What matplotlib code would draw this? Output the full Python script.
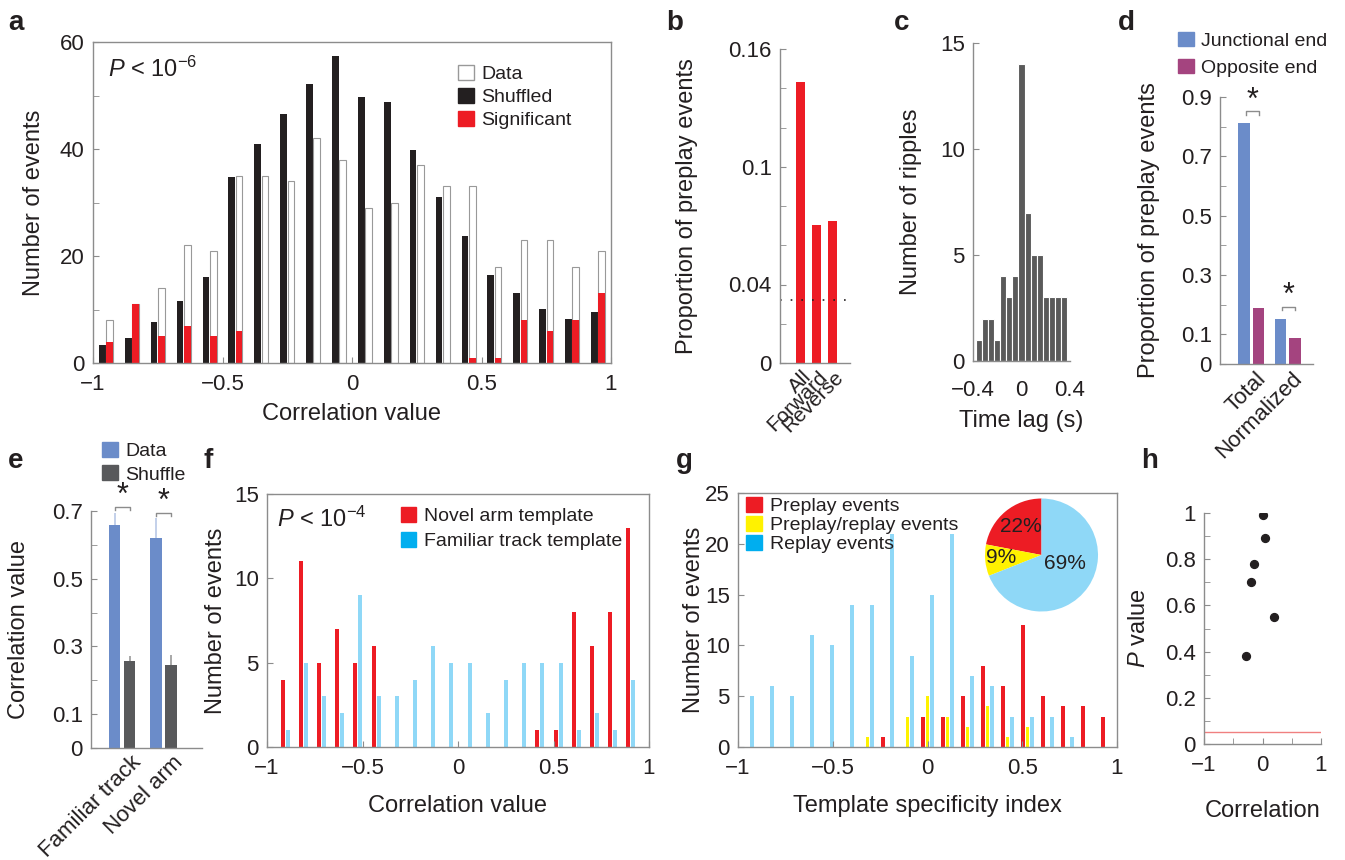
import numpy as np
import matplotlib.pyplot as plt
from matplotlib.patches import Patch

plt.rcParams['font.family'] = ['Liberation Sans', 'DejaVu Sans']
plt.rcParams['mathtext.fontset'] = 'custom'
plt.rcParams['mathtext.rm'] = 'Liberation Sans'
plt.rcParams['mathtext.it'] = 'Liberation Sans:italic'
plt.rcParams['axes.edgecolor'] = '#8c8c8c'
plt.rcParams['axes.linewidth'] = 1.0
plt.rcParams['text.color'] = '#231f20'
plt.rcParams['axes.labelcolor'] = '#231f20'
plt.rcParams['xtick.color'] = '#8c8c8c'
plt.rcParams['ytick.color'] = '#8c8c8c'
plt.rcParams['xtick.labelcolor'] = '#231f20'
plt.rcParams['ytick.labelcolor'] = '#231f20'
plt.rcParams['xtick.direction'] = 'in'
plt.rcParams['ytick.direction'] = 'in'
plt.rcParams['xtick.major.size'] = 4
plt.rcParams['ytick.major.size'] = 4
plt.rcParams['xtick.minor.size'] = 4
plt.rcParams['ytick.minor.size'] = 4
plt.rcParams['xtick.major.pad'] = 8
plt.rcParams['ytick.major.pad'] = 6
plt.rcParams['xtick.labelsize'] = 16
plt.rcParams['ytick.labelsize'] = 16
plt.rcParams['axes.labelsize'] = 17

RED = '#ed1c24'
BLACK = '#231f20'
CYAN = '#8fd8f7'
CYAN_KEY = '#00aeef'
YELLOW = '#fff200'
BLUE = '#6b8cc9'
PURPLE = '#a4447f'
GREY = '#58595b'
LEG = 14

# ---- data -------------------------------------------------------------
# a: correlation histogram, 0.1 bins
a_bins = np.round(np.arange(-0.95, 0.96, 0.1), 2)
a_data = [8, 11, 14, 22, 21, 35, 35, 34, 42, 38, 29, 30, 37, 33, 33, 18, 23, 23, 18, 21]
a_shuffled = [3.3, 4.7, 7.7, 11.6, 16.1, 34.8, 41, 46.5, 52.2, 57.4,
              49.8, 48.7, 39.9, 31, 23.8, 16.4, 13.1, 10.1, 8.2, 9.5]
a_significant = [4, 11, 5, 7, 5, 6, 0, 0, 0, 0, 0, 0, 0, 0, 1, 1, 8, 6, 8, 13]

# b
b_labels = ['All', 'Forward', 'Reverse']
b_values = [0.143, 0.0703, 0.0723]
b_chance = 0.032

# c: ripple time lag, 0.05 s bins
c_bins = np.round(np.arange(-0.35, 0.36, 0.05), 2)
c_counts = [1, 2, 2, 1, 4, 3, 4, 14, 7, 5, 5, 3, 3, 3, 3]

# d
d_labels = ['Total', 'Normalized']
d_junctional = [0.812, 0.153]
d_opposite = [0.19, 0.086]

# e
e_labels = ['Familiar track', 'Novel arm']
e_data = [0.658, 0.619]
e_data_err = [0.035, 0.06]
e_shuffle = [0.256, 0.245]
e_shuffle_err = [0.015, 0.031]

# f
f_bins = np.linspace(-0.905, 0.905, 20)
f_novel = [4, 11, 5, 7, 5, 6, 0, 0, 0, 0, 0, 0, 0, 0, 1, 1, 8, 6, 8, 13]
f_familiar = [1, 5, 3, 2, 9, 3, 3, 4, 6, 5, 5, 2, 4, 5, 5, 5, 1, 2, 1, 4]

# g
g_bins = np.linspace(-0.95, 0.95, 19)
g_preplay = [0, 0, 0, 0, 0, 0, 0, 1, 0, 3, 3, 5, 8, 6, 12, 5, 4, 4, 3]
g_both = [0, 0, 0, 0, 0, 0, 1, 0, 3, 5, 3, 2, 4, 1, 2, 0, 0, 0, 0]
g_replay = [5, 6, 5, 11, 10, 14, 14, 21, 9, 15, 21, 7, 6, 3, 3, 3, 1, 0, 0]
g_pie = [22, 9, 69]

# h
h_corr = [0.0, 0.05, -0.14, -0.2, 0.2, -0.29]
h_p = [0.99, 0.89, 0.78, 0.70, 0.55, 0.38]
h_alpha = 0.05

# ---- layout -----------------------------------------------------------
W, H = 1345, 860
fig = plt.figure(figsize=(W / 100, H / 100), dpi=100)


def box(l, t, r, b):
    return [l / W, 1 - b / H, (r - l) / W, (b - t) / H]


def fmt(v):
    return f'{v:g}'.replace('-', '\u2212')


def letter(x, y, s):
    fig.text(x / W, 1 - y / H, s, fontsize=20, fontweight='bold', va='baseline', ha='left')


def open_axes(ax):
    ax.spines['top'].set_visible(False)
    ax.spines['right'].set_visible(False)
    ax.patch.set_alpha(0)


def bracket(ax, x0, x1, y, dy, ys):
    ax.plot([x0, x0, x1, x1], [y - dy, y, y, y - dy], color='#8c8c8c', lw=1, clip_on=False)
    ax.text((x0 + x1) / 2, ys, '*', fontsize=22, ha='center', va='center', clip_on=False)


def key(ax, colors, labels, anchor, spacing=0.25, edge=None):
    hs = [Patch(facecolor=c, edgecolor=(edge if edge and c == 'white' else c)) for c in colors]
    ax.legend(hs, labels, loc='upper left', bbox_to_anchor=anchor, frameon=False,
              fontsize=LEG, handlelength=0.8, handleheight=0.8, handletextpad=0.4,
              labelspacing=spacing, borderaxespad=0, borderpad=0)


# a
ax = fig.add_axes(box(93, 42, 611, 363))
ax.bar(a_bins - 0.014, a_shuffled, width=0.026, color=BLACK)
ax.bar(a_bins + 0.014, a_data, width=0.026, color='white', edgecolor='#999999', linewidth=0.8)
ax.bar(a_bins + 0.014, a_significant, width=0.026, color=RED)
ax.set_xlim(-1, 1)
ax.set_ylim(0, 60)
ax.set_xticks([-1, -0.5, 0, 0.5, 1])
ax.set_xticklabels([fmt(v) for v in [-1, -0.5, 0, 0.5, 1]])
ax.set_yticks([0, 20, 40, 60])
ax.set_yticks([10, 30, 50], minor=True)
ax.set_xlabel('Correlation value')
ax.set_ylabel('Number of events')
ax.xaxis.set_label_coords(0.5, -0.125)
ax.yaxis.set_label_coords(-0.093, 0.5)
ax.text(0.028, 0.915, r'$P$ < 10$^{-6}$', transform=ax.transAxes, fontsize=17, va='center')
key(ax, ['white', BLACK, RED], ['Data', 'Shuffled', 'Significant'], (0.705, 0.928), edge='#999999')
letter(8, 30, 'a')

# b
ax = fig.add_axes(box(780, 49, 850, 363))
open_axes(ax)
xb = np.arange(len(b_labels))
ax.bar(xb, b_values, width=0.58, color=RED)
ax.axhline(b_chance, color=BLACK, lw=1.2, ls=(0, (1, 5.4)))
ax.set_xlim(-1.27, 3.1)
ax.set_ylim(0, 0.16)
ax.set_yticks([0, 0.04, 0.1, 0.16])
ax.set_yticklabels(['0', '0.04', '0.1', '0.16'])
ax.set_yticks([0.02, 0.06, 0.08, 0.12, 0.14], minor=True)
ax.set_xticks(xb + 0.1)
ax.set_xticklabels(b_labels, rotation=45, ha='right', va='top', rotation_mode='anchor', fontsize=15)
ax.tick_params(axis='x', length=0, pad=3)
ax.set_ylabel('Proportion of preplay events')
ax.yaxis.set_label_coords(-1.17, 0.5)
letter(666, 30, 'b')

# c
ax = fig.add_axes(box(973, 43, 1070, 361))
open_axes(ax)
ax.bar(c_bins, c_counts, width=0.05, color='#5a5a5a', edgecolor='white', linewidth=0.8)
ax.set_xlim(-0.4, 0.4)
ax.set_ylim(0, 15)
ax.set_xticks([-0.4, 0, 0.4])
ax.set_xticklabels([fmt(v) for v in [-0.4, 0, 0.4]])
ax.set_yticks([0, 5, 10, 15])
ax.tick_params(axis='x', length=0, pad=14)
ax.set_xlabel('Time lag (s)')
ax.set_ylabel('Number of ripples')
ax.xaxis.set_label_coords(0.5, -0.155)
ax.yaxis.set_label_coords(-0.53, 0.5)
letter(894, 30, 'c')

# d
ax = fig.add_axes(box(1220, 97, 1313, 364))
open_axes(ax)
xd = np.arange(len(d_labels))
ax.bar(xd - 0.197, d_junctional, width=0.325, color=BLUE)
ax.bar(xd + 0.197, d_opposite, width=0.325, color=PURPLE)
ax.set_xlim(-0.87, 1.705)
ax.set_ylim(0, 0.9)
ax.set_yticks([0, 0.1, 0.3, 0.5, 0.7, 0.9])
ax.set_yticklabels(['0', '0.1', '0.3', '0.5', '0.7', '0.9'])
ax.set_yticks([0.2, 0.4, 0.6, 0.8], minor=True)
ax.set_xticks(xd + 0.12)
ax.set_xticklabels(d_labels, rotation=45, ha='right', va='top', rotation_mode='anchor')
ax.tick_params(axis='x', length=0, pad=3)
ax.set_ylabel('Proportion of preplay events')
ax.yaxis.set_label_coords(-0.645, 0.5)
for i in range(len(d_labels)):
    top = max(d_junctional[i], d_opposite[i])
    bracket(ax, i - 0.16, i + 0.2, top + 0.04, 0.012, top + 0.075)
key(ax, [BLUE, PURPLE], ['Junctional end', 'Opposite end'], (-0.45, 1.245), spacing=0.45)
letter(1118, 30, 'd')

# e
ax = fig.add_axes(box(91, 511, 202, 748))
open_axes(ax)
xe = np.arange(len(e_labels))
ax.bar(xe - 0.18, e_data, width=0.28, color=BLUE)
ax.bar(xe + 0.18, e_shuffle, width=0.28, color=GREY)
ax.errorbar(xe - 0.18, e_data, yerr=[np.zeros(2), e_data_err], fmt='none',
            ecolor='#b9c8e6', elinewidth=1.2, capsize=0)
ax.errorbar(xe + 0.18, e_shuffle, yerr=[np.zeros(2), e_shuffle_err], fmt='none',
            ecolor='#9a9a9a', elinewidth=1.2, capsize=0)
ax.set_xlim(-0.745, 1.92)
ax.set_ylim(0, 0.7)
ax.set_yticks([0, 0.1, 0.3, 0.5, 0.7])
ax.set_yticklabels(['0', '0.1', '0.3', '0.5', '0.7'])
ax.set_yticks([0.2, 0.4, 0.6], minor=True)
ax.set_xticks(xe + 0.2)
ax.set_xticklabels(e_labels, rotation=45, ha='right', va='top', rotation_mode='anchor')
ax.tick_params(axis='x', length=0, pad=3)
ax.set_ylabel('Correlation value')
ax.yaxis.set_label_coords(-0.55, 0.5)
bracket(ax, -0.18, 0.18, 0.712, 0.01, 0.745)
bracket(ax, 0.82, 1.18, 0.695, 0.01, 0.728)
key(ax, [BLUE, GREY], ['Data', 'Shuffle'], (0.1, 1.29))
letter(8, 468, 'e')

# f
ax = fig.add_axes(box(267, 494, 649, 747))
ax.bar(f_bins - 0.013, f_novel, width=0.021, color=RED)
ax.bar(f_bins + 0.013, f_familiar, width=0.021, color=CYAN)
ax.set_xlim(-1, 1)
ax.set_ylim(0, 15)
ax.set_xticks([-1, -0.5, 0, 0.5, 1])
ax.set_xticklabels([fmt(v) for v in [-1, -0.5, 0, 0.5, 1]])
ax.set_yticks([0, 5, 10, 15])
ax.set_xlabel('Correlation value')
ax.set_ylabel('Number of events')
ax.xaxis.set_label_coords(0.5, -0.19)
ax.yaxis.set_label_coords(-0.105, 0.5)
ax.text(0.026, 0.9, r'$P$ < 10$^{-4}$', transform=ax.transAxes, fontsize=17, va='center')
key(ax, [RED, CYAN_KEY], ['Novel arm template', 'Familiar track template'], (0.35, 0.95),
    spacing=0.35)
letter(204, 468, 'f')

# g
ax = fig.add_axes(box(738, 493, 1117, 747))
ax.bar(g_bins - 0.023, g_preplay, width=0.018, color=RED)
ax.bar(g_bins, g_both, width=0.018, color=YELLOW)
ax.bar(g_bins + 0.024, g_replay, width=0.018, color=CYAN)
ax.set_xlim(-1, 1)
ax.set_ylim(0, 25)
ax.set_xticks([-1, -0.5, 0, 0.5, 1])
ax.set_xticklabels([fmt(v) for v in [-1, -0.5, 0, 0.5, 1]])
ax.set_yticks([0, 5, 10, 15, 20, 25])
ax.set_xlabel('Template specificity index')
ax.set_ylabel('Number of events')
ax.xaxis.set_label_coords(0.5, -0.19)
ax.yaxis.set_label_coords(-0.087, 0.5)
key(ax, [RED, YELLOW, CYAN_KEY], ['Preplay events', 'Preplay/replay events', 'Replay events'],
    (0.022, 0.985), spacing=0.05)
letter(676, 468, 'g')

pie = fig.add_axes(box(985, 498, 1098, 612))
pie.pie(g_pie, colors=[RED, YELLOW, CYAN], startangle=90, counterclock=True,
        wedgeprops=dict(linewidth=0))
pie.set_xlim(-1, 1)
pie.set_ylim(-1, 1)
pie.set_aspect('equal')
for (px, py), v in zip([(-0.36, 0.5), (-0.72, -0.05), (0.42, -0.15)], g_pie):
    pie.text(px, py, f'{v}%', ha='center', va='center', fontsize=15)

# h
ax = fig.add_axes(box(1204, 513, 1321, 744))
open_axes(ax)
ax.scatter(h_corr, h_p, s=32, color=BLACK, zorder=3)
ax.axhline(h_alpha, color='#f08080', lw=1)
ax.set_xlim(-1, 1)
ax.set_ylim(0, 1)
ax.set_xticks([-1, 0, 1])
ax.set_xticklabels([fmt(v) for v in [-1, 0, 1]])
ax.set_xticks([-0.5, 0.5], minor=True)
ax.set_yticks([0, 0.2, 0.4, 0.6, 0.8, 1])
ax.set_yticklabels(['0', '0.2', '0.4', '0.6', '0.8', '1'])
ax.set_yticks([0.1, 0.3, 0.5, 0.7, 0.9], minor=True)
ax.set_xlabel('Correlation')
ax.set_ylabel(r'$P$ value')
ax.xaxis.set_label_coords(0.5, -0.242)
ax.yaxis.set_label_coords(-0.46, 0.5)
letter(1141, 468, 'h')

fig.savefig('out.png', dpi=100)
